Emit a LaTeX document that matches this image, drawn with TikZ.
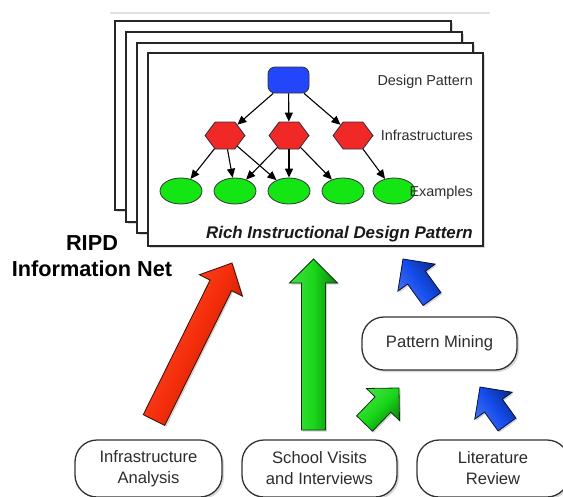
\documentclass[tikz,border=0pt]{standalone}
\usepackage{fontspec}
\setmainfont{Liberation Sans}
\usetikzlibrary{shapes.geometric,shapes.symbols,shadows,arrows.meta,calc}
\definecolor{dpblue}{RGB}{35,70,250}
\definecolor{infred}{RGB}{240,40,40}
\definecolor{exgreen}{RGB}{20,230,20}
\definecolor{txtgray}{RGB}{45,45,45}
\definecolor{arred}{RGB}{245,45,10}
\definecolor{argreen}{RGB}{25,215,25}
\definecolor{arblue}{RGB}{20,75,235}
% #1 tail, #2 tip, #3 half shaft, #4 half head, #5 head length, #6 colour, #7 shading angle
\newcommand\blockarrow[7]{%
  \path ($(#2)!#5!(#1)$) coordinate (bah);
  \shade[draw=#6!25!black, line width=0.8pt, line join=miter,
         drop shadow={shadow xshift=1.5pt,shadow yshift=-1.5pt,opacity=.35},
         left color=#6!80!white, right color=#6!60!black, middle color=#6, shading angle=#7]
    ($(#1)!#3!90:(#2)$) -- ($(bah)!#3!90:(#2)$) -- ($(bah)!#4!90:(#2)$) -- (#2)
    -- ($(bah)!#4!-90:(#2)$) -- ($(bah)!#3!-90:(#2)$) -- ($(#1)!#3!-90:(#2)$) -- cycle;}
\begin{document}
\begin{tikzpicture}[x=1pt,y=-1pt,
  page/.style={draw=black!85, line width=1.8pt, fill=white,
    drop shadow={shadow xshift=2pt,shadow yshift=-2pt,opacity=.3}},
  dpnode/.style={draw=black!80, line width=.8pt, fill=dpblue, rounded corners=7pt,
    minimum width=41pt, minimum height=26pt, inner sep=0pt},
  infra/.style={signal, signal to=west and east, signal pointer angle=106,
    draw=black!80, line width=.8pt, fill=infred,
    minimum width=40pt, minimum height=27pt, inner sep=0pt},
  exnode/.style={ellipse, draw=black!80, line width=.8pt, fill=exgreen,
    minimum width=42pt, minimum height=26pt, inner sep=0pt},
  edge/.style={line width=1.1pt, black, -{Triangle[length=9pt,width=8pt]}},
  lbl/.style={anchor=base east, inner sep=0pt, text=txtgray, font=\fontsize{14.4}{17}\selectfont},
  srcbox/.style={draw=black!80, line width=1.3pt, fill=white, rounded corners=22pt,
    align=center, text=txtgray, font=\fontsize{16.6}{21}\selectfont,
    drop shadow={shadow xshift=2pt,shadow yshift=-2pt,opacity=.3}},
  ripd/.style={anchor=base, inner sep=0pt, font=\bfseries\fontsize{21.7}{26}\selectfont}]
\useasboundingbox (0,0) rectangle (563,496);
\clip (0,0) rectangle (563,496);
\fill[white] (0,0) rectangle (563,496);
\draw[black!12, line width=2pt] (110,13) -- (490,13);
% stacked pages
\draw[page] (115,21) rectangle (451,210);
\draw[page] (126,32) rectangle (462,222);
\draw[page] (137,43) rectangle (473,233);
\draw[page] (148,53) rectangle (483,246);
% tree
\node[dpnode] (dp) at (288.5,80) {};
\node[infra] (i1) at (225,135.5) {};
\node[infra] (i2) at (289,135.5) {};
\node[infra] (i3) at (353,135.5) {};
\node[exnode] (e1) at (181,191) {};
\node[exnode] (e2) at (235,191) {};
\node[exnode] (e3) at (289,191) {};
\node[exnode] (e4) at (343,191) {};
\node[exnode] (e5) at (394,191) {};
\draw[edge] (dp) -- (i1);
\draw[edge] (dp) -- (i2);
\draw[edge] (dp) -- (i3);
\draw[edge] (i1) -- (e1);
\draw[edge] (i1) -- (e2);
\draw[edge] (i1) -- (e3);
\draw[edge] (i2) -- (e2);
\draw[edge] (i2) -- (e3);
\draw[edge] (i2) -- (e4);
\draw[edge] (i3) -- (e5);
\node[lbl] (ldp) at (473,85.2) {Design Pattern};
\node[lbl] (linf) at (473,140.7) {Infrastructures};
\node[lbl] (lex) at (473,196.2) {Examples};
\node[anchor=base east, inner sep=0pt, text=black!90,
  font=\bfseries\itshape\fontsize{16.9}{20}\selectfont] (title) at (473,238.3)
  {Rich Instructional Design Pattern};
\node[ripd] (ripd1) at (92,250.7) {RIPD};
\node[ripd] (ripd2) at (92,276.7) {Information Net};
% boxes
\node[srcbox, minimum width=155pt, minimum height=53pt] (pm) at (439.5,343.5) {Pattern Mining};
\node[srcbox, minimum width=147pt, minimum height=57pt] (ia) at (148.5,468.5) {Infrastructure\\Analysis};
\node[srcbox, minimum width=155pt, minimum height=57pt] (sv) at (319.5,468.5) {School Visits\\and Interviews};
\node[srcbox, minimum width=152pt, minimum height=57pt] (lr) at (493,468.5) {Literature\\Review};
% block arrows
\coordinate (ra0) at (154,420);   \coordinate (ra1) at (232,263);
\coordinate (ga0) at (313.5,430); \coordinate (ga1) at (313.5,259);
\coordinate (ba0) at (432,299);   \coordinate (ba1) at (403,259);
\coordinate (gs0) at (364.5,423.5); \coordinate (gs1) at (399,388);
\coordinate (bl0) at (507,424.5); \coordinate (bl1) at (480,387);
\blockarrow{ra0}{ra1}{12pt}{24pt}{25pt}{arred}{64}
\blockarrow{ga0}{ga1}{12pt}{24pt}{24pt}{argreen}{90}
\blockarrow{ba0}{ba1}{11pt}{23pt}{23pt}{arblue}{126}
\blockarrow{gs0}{gs1}{11pt}{23pt}{23pt}{argreen}{45}
\blockarrow{bl0}{bl1}{11pt}{23pt}{23pt}{arblue}{126}
\end{tikzpicture}
\end{document}
